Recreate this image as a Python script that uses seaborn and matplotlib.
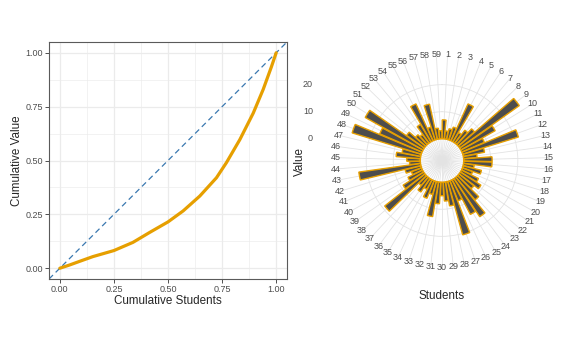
import numpy as np
import seaborn as sns
import matplotlib.pyplot as plt

# --- Values ---
# Lorenz curve (left panel)
lorenz_students = [0.0, 0.045, 0.1, 0.153, 0.25, 0.338, 0.415, 0.5, 0.57,
                   0.647, 0.724, 0.77, 0.832, 0.894, 0.94, 0.978, 1.0]
lorenz_value = [0.0, 0.015, 0.035, 0.054, 0.082, 0.12, 0.166, 0.215, 0.266,
                0.335, 0.42, 0.49, 0.597, 0.72, 0.83, 0.935, 1.0]

# Value per student (right panel, polar bars)
students = list(range(1, 60))
values = [7, 3, 4, 5, 15, 4, 6, 8, 27, 14.5,
          9, 21.5, 8, 5, 10.5, 10.5, 4, 7, 4, 7,
          9, 7, 11, 17, 14.5, 8, 20.5, 9, 7, 5,
          8, 13, 5, 7, 4, 6, 4, 19, 9, 6,
          4, 6, 23, 4, 5, 9, 7, 26.7, 17, 24.5,
          8, 5, 4, 7.5, 15, 5, 13.3, 4, 3]
r_breaks = [0, 10, 20]
r_floor = -8  # lower radial limit that opens the hole in the middle

ORANGE = '#E69F00'
BLUE = '#3A78B0'
GRID = '#e3e3e3'
TEXT_GREY = '#4d4d4d'


def main():
    sns.set_theme(style='white')
    plt.rcParams['font.family'] = ['Liberation Sans', 'DejaVu Sans']

    W, H = 567, 351
    fig = plt.figure(figsize=(W / 100, H / 100), dpi=100)

    # --- Left: Lorenz curve ---
    ax1 = fig.add_axes([49 / W, 72 / H, 238 / W, 237 / H])
    ax1.set_axisbelow(True)
    sns.lineplot(x=lorenz_students, y=lorenz_value, ax=ax1, color=ORANGE,
                 linewidth=2.3, zorder=3)
    ax1.axline((0, 0), (1, 1), color=BLUE, linewidth=0.9,
               linestyle=(0, (4.5, 3)), zorder=2)
    ax1.set_xlim(-0.05, 1.05)
    ax1.set_ylim(-0.05, 1.05)
    major = [0, 0.25, 0.5, 0.75, 1.0]
    ax1.set_xticks(major)
    ax1.set_yticks(major)
    ax1.set_xticklabels([f'{t:.2f}' for t in major])
    ax1.set_yticklabels([f'{t:.2f}' for t in major])
    ax1.set_xticks([0.125, 0.375, 0.625, 0.875], minor=True)
    ax1.set_yticks([0.125, 0.375, 0.625, 0.875], minor=True)
    ax1.grid(which='major', color='#ebebeb', linewidth=0.9)
    ax1.grid(which='minor', color='#ebebeb', linewidth=0.45)
    ax1.tick_params(which='major', length=2.75, width=0.6, color='#333333',
                    labelsize=6.5, labelcolor=TEXT_GREY, pad=1.5,
                    bottom=True, left=True)
    ax1.tick_params(which='minor', length=0)
    for sp in ax1.spines.values():
        sp.set_color('#5a5a5a')
        sp.set_linewidth(0.8)
    ax1.set_xlabel('Cumulative Students', fontsize=8.4, labelpad=1)
    ax1.set_ylabel('Cumulative Value', fontsize=8.4, labelpad=2)

    # --- Right: polar bar chart ---
    panel = 237
    cx, cy = 442, 160.5
    R = 0.45 * panel  # grid reaches 0.45 of the panel, bars stop at 0.40
    ax2 = fig.add_axes([(cx - R) / W, (H - cy - R) / H, 2 * R / W, 2 * R / H],
                       projection='polar')
    ax2.set_theta_zero_location('N')
    ax2.set_theta_direction(-1)
    n = len(students)
    theta = (np.array(students) - 0.5) * 2 * np.pi / n
    ax2.bar(theta, values, width=0.9 * 2 * np.pi / n, bottom=0,
            color='#4d4d4d', edgecolor=ORANGE, linewidth=1.0, zorder=3)
    r_top = r_floor + (max(values) - r_floor) * 0.45 / 0.4
    ax2.set_ylim(r_floor, r_top)
    ax2.set_xticks(theta)
    ax2.set_xticklabels([])
    ax2.set_yticks(r_breaks)
    ax2.set_yticklabels([])
    ax2.tick_params(length=0)
    ax2.grid(color=GRID, linewidth=0.6)
    ax2.spines['polar'].set_visible(False)
    ax2.set_facecolor('white')

    # theta labels are centred on the outer grid circle
    for t, s in zip(theta, students):
        ax2.text(t, r_top, str(s), ha='center', va='center', fontsize=6.5,
                 color=TEXT_GREY, clip_on=False)

    # radial labels sit on the left of the panel, like ggplot's coord_polar
    to_fig = fig.transFigure.inverted()
    for v in r_breaks:
        _, yd = to_fig.transform(ax2.transData.transform((0, v)))
        fig.text(313 / W, yd, str(v), ha='right', va='center',
                 fontsize=6.5, color=TEXT_GREY)
    fig.text(300 / W, 1 - 161 / H, 'Value', rotation=90, ha='center',
             va='center', fontsize=8.4)
    fig.text(cx / W, 1 - 296 / H, 'Students', ha='center', va='center',
             fontsize=8.4)

    fig.savefig('out.png', dpi=100)


if __name__ == '__main__':
    main()
